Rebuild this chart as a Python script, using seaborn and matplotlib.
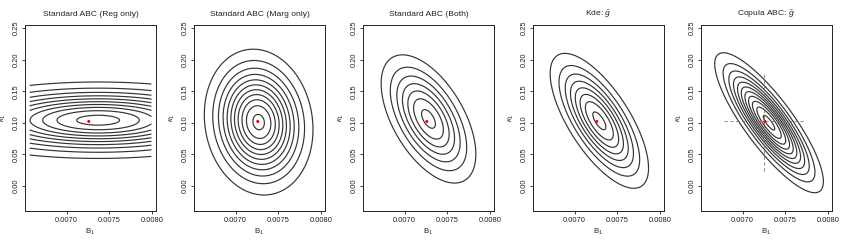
import numpy as np
import matplotlib
matplotlib.use("Agg")
import matplotlib.pyplot as plt
import seaborn as sns

# ---- data ----
titles = ["Standard ABC (Reg only)", "Standard ABC (Marg only)", "Standard ABC (Both)",
          r"Kde: $\hat{g}$", r"Copula ABC: $\tilde{g}$"]
center_b = [0.00737, 0.00727, 0.00728, 0.00729, 0.00731]
center_k = [0.104, 0.101, 0.106, 0.103, 0.100]
sd_b = [0.00090, 0.00029, 0.000279, 0.000281, 0.00029]
sd_k = [0.028, 0.0525, 0.051, 0.052, 0.0504]
rho = [0.0, -0.10, -0.55, -0.70, -0.84]
n_levels = [10, 11, 7, 8, 11]
level_step = [1 / 10.4, 1 / 11.3, 1 / 7.3, 1 / 8.3, 1 / 11.3]
true_b, true_k = 0.00726, 0.102
ci_b = [0.00678, 0.00773]
ci_k = [0.023, 0.181]
ci_mid_b, ci_mid_k = 0.00725, 0.103
b_range = [0.006565, 0.007996]
k_range = [-0.0291, 0.2439]
x_ticks = [0.0070, 0.0075, 0.0080]
y_ticks = [0.00, 0.05, 0.10, 0.15, 0.20, 0.25]

sns.set_theme(style="white")
plt.rcParams["font.family"] = ["Liberation Sans", "DejaVu Sans"]
plt.rcParams["mathtext.fontset"] = "custom"
plt.rcParams["mathtext.rm"] = "Liberation Sans"
plt.rcParams["mathtext.it"] = "Liberation Sans:italic"

fig = plt.figure(figsize=(8.45, 2.42), dpi=100)
W, H = 845.0, 242.0
lefts = [25, 194, 363, 533, 701]
ax_w, ax_top, ax_bot = 131, 25, 211

bg = np.linspace(b_range[0], b_range[1], 300)
kg = np.linspace(k_range[0], k_range[1], 300)
B, K = np.meshgrid(bg, kg)

for i in range(5):
    ax = fig.add_axes([lefts[i] / W, (H - ax_bot) / H, ax_w / W, (ax_bot - ax_top) / H])
    zb = (B - center_b[i]) / sd_b[i]
    zk = (K - center_k[i]) / sd_k[i]
    r = rho[i]
    Q = (zb ** 2 - 2 * r * zb * zk + zk ** 2) / (1 - r ** 2)
    dens = np.exp(-0.5 * Q)
    levels = np.arange(1, n_levels[i] + 1) * level_step[i]
    ax.contour(B, K, dens, levels=levels, colors="#333333", linewidths=0.85)
    if i == 4:
        ax.plot([ci_mid_b, ci_mid_b], ci_k, color="#777777", lw=0.6, ls=(0, (4, 3)))
        ax.plot(ci_b, [ci_mid_k, ci_mid_k], color="#777777", lw=0.6, ls=(0, (4, 3)))
    ax.scatter([true_b], [true_k], s=5, color="red", edgecolors="none", zorder=5)

    ax.set_xlim(0.00651, 0.00805)
    ax.set_ylim(-0.040, 0.255)
    ax.set_xticks(x_ticks)
    ax.set_xticklabels([f"{v:.4f}" for v in x_ticks])
    ax.set_yticks(y_ticks)
    ax.set_yticklabels([f"{v:.2f}" for v in y_ticks], rotation=90, va="center")
    ax.tick_params(direction="out", length=2.5, width=0.6, labelsize=5.4, pad=1.5,
                   colors="#222222", bottom=True, left=True)
    for s in ax.spines.values():
        s.set_visible(True)
        s.set_color("#222222")
        s.set_linewidth(0.7)
    ax.set_title(titles[i], fontsize=6.1, pad=6.5, color="#222222")
    ax.set_xlabel(r"$\mathrm{B}_1$", fontsize=5.6, labelpad=2, color="#222222")
    ax.set_ylabel(r"$\kappa_1$", fontsize=5.6, labelpad=3, color="#222222")

fig.savefig("out.png", dpi=100)
